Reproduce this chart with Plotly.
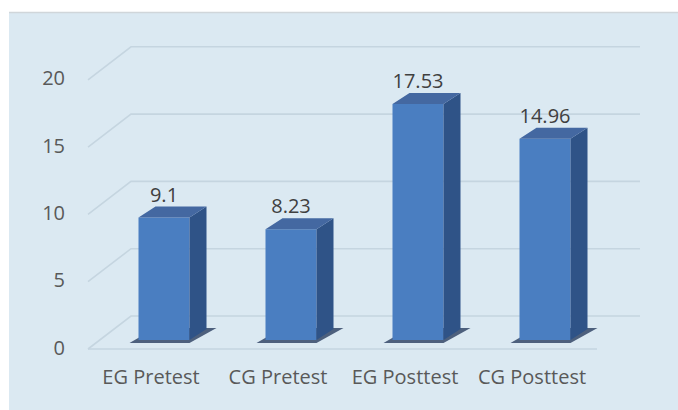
import plotly.graph_objects as go

# ---- data ----
categories = ["EG Pretest", "CG Pretest", "EG Posttest", "CG Posttest"]
values = [9.1, 8.23, 17.53, 14.96]
value_labels = ["9.1", "8.23", "17.53", "14.96"]
y_ticks = [0, 5, 10, 15, 20]

# ---- layout geometry (pixels) ----
W, H = 678, 410
PL, PR, PT, PB = 70, 668, 20, 360
ML, MT, MR, MB = PL, PT, W - PR, H - PB
X0PX, XSTEP = 164, 127          # first bar centre / spacing in px
YPX = 13.46                     # px per value unit
BAR_ZERO, GRID_ZERO, LAB_ZERO = 340, 316, 347.5
LABEL_X0 = 151

def xr(c):
    return [(PL - c) / XSTEP, (PR - c) / XSTEP]

def yr(z):
    return [(z - PB) / YPX, (z - PT) / YPX]

def ux(px):
    return (px - X0PX) / XSTEP

def px_x(p):
    return (p - PL) / (PR - PL)

def px_y(p):
    return (PB - p) / (PB - PT)

BW = 51 / XSTEP                 # bar front width (x units)
DX = 17 / XSTEP                 # depth offset x
DY = 11 / YPX                   # depth offset y
FRONT = (GRID_ZERO - 349) / YPX  # grid-axis offset of the front edge
BAR_IN_GRID = (GRID_ZERO - BAR_ZERO) / YPX  # bar zero expressed on grid axis

FONT = "Open Sans"
C_FRONT = "#4a7ec1"
C_TOP = "#4468a1"
C_SIDE = "#2f5387"
C_GRID = "#c5d5e0"

fig = go.Figure()

# ---- back wall / side wall grid (base subplot x, y) ----
gx, gy = [], []
for t in y_ticks:
    gx += [ux(88), ux(131), ux(640), None]
    gy += [t + FRONT, t, t, None]
gx += [ux(88), ux(597), None]
gy += [FRONT, FRONT, None]
fig.add_trace(go.Scatter(x=gx, y=gy, mode="lines", line=dict(color=C_GRID, width=1.6),
                         xaxis="x", yaxis="y", hoverinfo="skip", showlegend=False))

# ---- floor shadows (base subplot, below the bars) ----
xs = list(range(len(values)))
sx, sy = [], []
b0 = BAR_IN_GRID
for i in xs:
    l, r = i - BW / 2, i + BW / 2
    sx += [l - 9 / XSTEP, r, r + DX + 10 / XSTEP, l + DX, l - 9 / XSTEP, None]
    sy += [b0 - 3 / YPX, b0 - 3 / YPX, b0 + DY + 1 / YPX, b0 + DY + 1 / YPX, b0 - 3 / YPX, None]
fig.add_trace(go.Scatter(x=sx, y=sy, fill="toself", mode="none",
                         fillcolor="rgba(30,50,85,0.75)", xaxis="x", yaxis="y",
                         hoverinfo="skip", showlegend=False))

# ---- bars (subplot x, y2) ----
fig.add_trace(go.Bar(x=xs, y=values, width=BW, marker=dict(color=C_FRONT, line=dict(width=0)),
                     xaxis="x", yaxis="y2", showlegend=False, hoverinfo="skip"))

side_x, side_y, top_x, top_y = [], [], [], []
for i, v in zip(xs, values):
    l, r = i - BW / 2, i + BW / 2
    side_x += [r, r + DX, r + DX, r, r, None]
    side_y += [0, DY, v + DY, v, 0, None]
    top_x += [l, l + DX, r + DX, r, l, None]
    top_y += [v, v + DY, v + DY, v, v, None]
fig.add_trace(go.Scatter(x=side_x, y=side_y, fill="toself", mode="none", fillcolor=C_SIDE,
                         xaxis="x", yaxis="y2", hoverinfo="skip", showlegend=False))
fig.add_trace(go.Scatter(x=top_x, y=top_y, fill="toself", mode="none", fillcolor=C_TOP,
                         xaxis="x", yaxis="y2", hoverinfo="skip", showlegend=False))

fig.add_trace(go.Scatter(x=xs, y=[v + DY for v in values], mode="text", text=value_labels,
                         textposition="top center",
                         textfont=dict(family=FONT, size=20, color="#404040"),
                         xaxis="x", yaxis="y2", hoverinfo="skip", showlegend=False))

# ---- axis label carrier (subplot x2, y3) ----
fig.add_trace(go.Scatter(x=xs, y=[None] * len(xs), mode="markers", xaxis="x2", yaxis="y3",
                         hoverinfo="skip", showlegend=False))

axis_common = dict(showgrid=False, zeroline=False, showline=False, fixedrange=True)
fig.update_layout(
    width=W, height=H,
    margin=dict(l=ML, r=MR, t=MT, b=MB),
    paper_bgcolor="#dbe9f2",
    plot_bgcolor="rgba(0,0,0,0)",
    xaxis=dict(range=xr(X0PX), showticklabels=False, ticks="", **axis_common),
    yaxis=dict(range=yr(GRID_ZERO), showticklabels=False, ticks="", **axis_common),
    yaxis2=dict(range=yr(BAR_ZERO), overlaying="y", anchor="x", showticklabels=False,
                ticks="", **axis_common),
    xaxis2=dict(range=xr(LABEL_X0), overlaying="x", anchor="y3", side="bottom",
                tickmode="array", tickvals=xs, ticktext=categories, ticks="",
                ticklabelstandoff=3,
                tickfont=dict(family=FONT, size=20, color="#595959"), **axis_common),
    yaxis3=dict(range=yr(LAB_ZERO), overlaying="y", anchor="x2", side="left",
                tickmode="array", tickvals=y_ticks, ticks="", ticklabelstandoff=4,
                tickfont=dict(family=FONT, size=20, color="#595959"), **axis_common),
    shapes=[
        dict(type="rect", xref="paper", yref="paper", x0=-1, x1=2,
             y0=px_y(12), y1=2, fillcolor="white", line=dict(width=0), layer="above"),
        dict(type="rect", xref="paper", yref="paper", x0=-1, x1=px_x(9),
             y0=-1, y1=2, fillcolor="white", line=dict(width=0), layer="above"),
        dict(type="line", xref="paper", yref="paper", x0=px_x(9), x1=2,
             y0=px_y(12.5), y1=px_y(12.5),
             line=dict(color="#d0d6da", width=1.5), layer="above"),
    ],
)

fig.write_html(
    "out.html",
    config={"displayModeBar": False, "staticPlot": True},
    post_script=("document.body.style.margin='0';"
                 "document.body.style.overflow='hidden';"
                 "document.documentElement.style.overflow='hidden';"),
)
